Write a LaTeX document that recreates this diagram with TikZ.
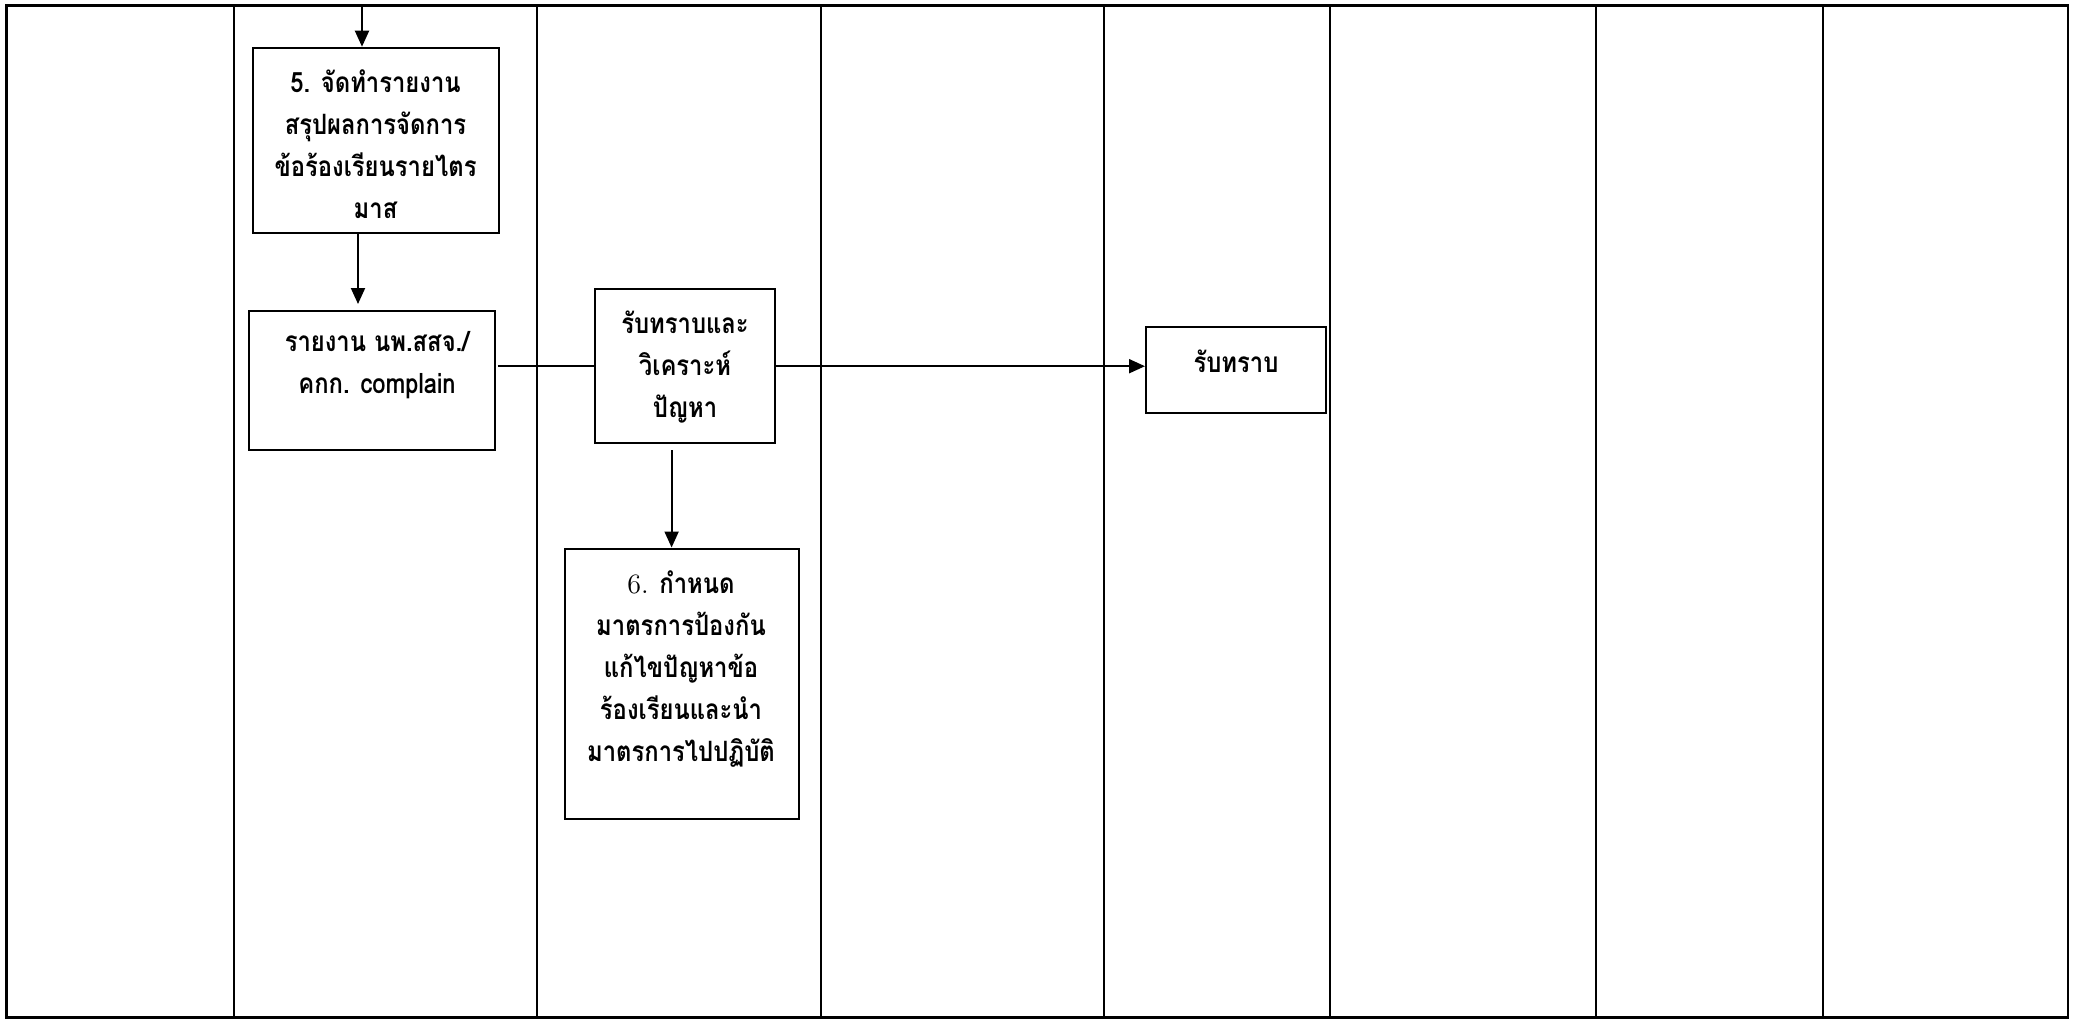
\documentclass[tikz,border=0pt]{standalone}
\usepackage{fontspec}
\newfontfamily\thaifont[Script=Thai,FakeStretch=0.85]{Loma}
\usetikzlibrary{arrows.meta}
\begin{document}
\begin{tikzpicture}[x=0.5pt,y=-0.5pt,
  lane/.style={line width=1.2pt},
  box/.style={draw,line width=1pt,rectangle,inner sep=0pt},
  txt/.style={font=\thaifont\bfseries\fontsize{14}{21}\selectfont, align=center, inner sep=0pt},
  link/.style={line width=1pt},
  arr/.style={line width=1pt,-{Triangle[length=8pt,width=7pt]}}]
\useasboundingbox (0,0) rectangle (2073,1019);
\draw[lane] (6.6,5.3) rectangle (2068,1017.5);
\foreach \x in {234,537,821,1104,1330,1596,1823} \draw[lane] (\x,5.3) -- (\x,1017.5);

\node[box,minimum width=123pt,minimum height=92.5pt] (b5) at (375.5,140.2) {};
\node[box,minimum width=123pt,minimum height=69.5pt] (rep) at (371.5,380.1) {};
\node[box,minimum width=90pt,minimum height=76.75pt] (ana) at (685,366.2) {};
\node[box,minimum width=90pt,minimum height=43pt] (ack) at (1236,369.5) {};
\node[box,minimum width=117pt,minimum height=135pt] (b6) at (681.5,683.5) {};

\node[txt] (t5) at (375.5,144) {5. จัดทำรายงาน\\สรุปผลการจัดการ\\ข้อร้องเรียนรายไตร\\มาส};
\node[txt] (trep) at (377,365.5) {รายงาน นพ.สสจ./\\คกก. complain};
\node[txt] (tana) at (685,367) {รับทราบและ\\วิเคราะห์\\ปัญหา};
\node[txt] (tack) at (1236,361) {รับทราบ};
\node[txt] (t6) at (681,669) {{\normalfont 6.} กำหนด\\มาตรการป้องกัน\\แก้ไขปัญหาข้อ\\ร้องเรียนและนำ\\มาตรการไปปฏิบัติ};

\coordinate (top) at (362,5.3);
\draw[arr] (top) -- (top |- b5.north);
\draw[arr] ([xshift=-8.75pt]b5.south) -- ([xshift=-8.75pt,yshift=2.8pt]b5.south |- rep.north);
\draw[link] ([xshift=1.2pt]rep.east |- ana.west) -- (ana.west);
\draw[arr] (ana.east) -- (ana.east -| ack.west);
\draw[arr] ([xshift=-6.7pt,yshift=-3.25pt]ana.south) -- ([xshift=-6.7pt]ana.south |- b6.north);
\end{tikzpicture}
\end{document}
